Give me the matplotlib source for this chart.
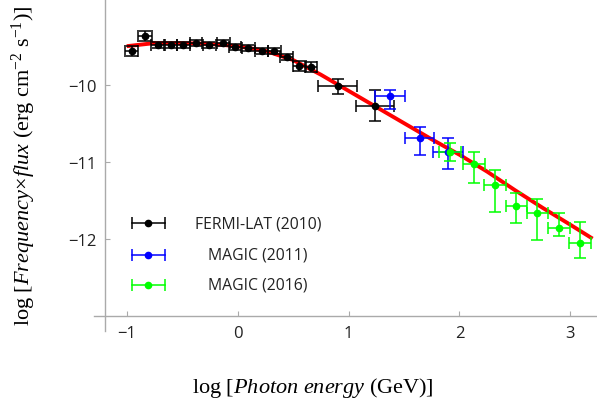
import matplotlib
matplotlib.use('Agg')
import matplotlib.pyplot as plt
import numpy as np

plt.rcParams['font.family'] = ['Open Sans', 'DejaVu Sans']
plt.rcParams['mathtext.fontset'] = 'custom'
plt.rcParams['mathtext.rm'] = 'Liberation Serif'
plt.rcParams['mathtext.it'] = 'Liberation Serif:italic'

# FERMI-LAT (2010)
fermi_x = [-0.955, -0.835, -0.721, -0.601, -0.490, -0.376, -0.256, -0.130, -0.024,
           0.096, 0.216, 0.330, 0.441, 0.555, 0.660, 0.901, 1.237]
fermi_y = [-9.558, -9.371, -9.481, -9.481, -9.481, -9.458, -9.481, -9.458, -9.514,
           -9.523, -9.558, -9.558, -9.636, -9.753, -9.774, -10.021, -10.273]
fermi_xerr = [0.06, 0.06, 0.057, 0.057, 0.057, 0.057, 0.057, 0.057, 0.057,
              0.057, 0.057, 0.057, 0.057, 0.057, 0.057, 0.173, 0.172]
fermi_yerr = [0.065, 0.065, 0.04, 0.04, 0.04, 0.04, 0.04, 0.04, 0.04,
              0.04, 0.04, 0.04, 0.04, 0.065, 0.065, 0.097, 0.2]

# MAGIC (2011)
magic11_x = [1.372, 1.642, 1.897]
magic11_y = [-10.151, -10.696, -10.870]
magic11_xerr = [0.135, 0.13, 0.135]
magic11_yerr_lo = [0.165, 0.217, 0.22]
magic11_yerr_hi = [0.082, 0.151, 0.18]

# MAGIC (2016)
magic16_x = [1.912, 2.129, 2.318, 2.514, 2.703, 2.895, 3.084]
magic16_y = [-10.878, -11.03, -11.30, -11.571, -11.666, -11.861, -12.056]
magic16_xerr = [0.098, 0.098, 0.1, 0.098, 0.098, 0.098, 0.098]
magic16_yerr_lo = [0.12, 0.25, 0.355, 0.225, 0.35, 0.11, 0.2]
magic16_yerr_hi = [0.12, 0.16, 0.195, 0.16, 0.18, 0.2, 0.27]

# model curve
model_x = [-1.0, -0.75, -0.5, -0.25, 0.0, 0.25, 0.5, 0.75, 1.0, 1.25, 1.5,
           1.75, 2.0, 2.25, 2.5, 2.75, 3.0, 3.2]
model_y = [-9.50, -9.46, -9.46, -9.47, -9.50, -9.56, -9.68, -9.87, -10.08, -10.29,
           -10.50, -10.71, -10.91, -11.13, -11.37, -11.60, -11.82, -12.00]

fig = plt.figure(figsize=(5.97, 4.02), dpi=100)
ax = fig.add_axes([94 / 597, 70 / 402, 503 / 597, 332 / 402])

ax.plot(model_x, model_y, color='#ff0000', lw=2.8, zorder=2, solid_capstyle='butt')

eb = dict(fmt='o', ms=4.5, capsize=4.5, elinewidth=1.1, capthick=1.1, zorder=3)
ax.errorbar(fermi_x, fermi_y, xerr=fermi_xerr, yerr=fermi_yerr, color='black', **eb)
ax.errorbar(magic11_x, magic11_y, xerr=magic11_xerr,
            yerr=[magic11_yerr_lo, magic11_yerr_hi], color='#0000ff', **eb)
ax.errorbar(magic16_x, magic16_y, xerr=magic16_xerr,
            yerr=[magic16_yerr_lo, magic16_yerr_hi], color='#00ff00', **eb)

ax.set_xlim(-1.295, 3.24)
ax.set_ylim(-13.2, -8.887)

for s in ['top', 'right']:
    ax.spines[s].set_visible(False)
ax.spines['left'].set_position(('data', -1.2))
ax.spines['bottom'].set_position(('data', -13.0))
for s in ['left', 'bottom']:
    ax.spines[s].set_color('#aaaaaa')
    ax.spines[s].set_linewidth(1.0)

ax.set_xticks([-1, 0, 1, 2, 3])
ax.set_yticks([-12, -11, -10])
ax.tick_params(direction='in', length=3.5, width=0.8, color='#aaaaaa',
               labelsize=12, labelcolor='#222222')
ax.tick_params(axis='x', pad=7)
ax.tick_params(axis='y', pad=6)

# legend
leg_rows = [('FERMI-LAT (2010)', 'black'), ('MAGIC (2011)', '#0000ff'),
            ('MAGIC (2016)', '#00ff00')]
leg_y = [0.325, 0.229, 0.139]
for (lab, c), yy in zip(leg_rows, leg_y):
    ax.plot([0.075, 0.141], [yy, yy], color=c, lw=1.1, transform=ax.transAxes)
    ax.plot([0.075, 0.141], [yy, yy], ls='none', marker='|', ms=8, mew=1.1,
            color=c, transform=ax.transAxes)
    ax.plot([0.108], [yy], 'o', ms=4.5, color=c, transform=ax.transAxes)
    ax.text(0.326, yy, lab, transform=ax.transAxes, ha='center', va='center',
            fontsize=11.3, color='#222222')

fig.text(313 / 597, 1 - 388 / 402, r'log [$\mathit{Photon\ energy}$ (GeV)]',
         ha='center', va='center', fontsize=16, family='Liberation Serif')
fig.text(24 / 597, 1 - 166 / 402,
         r'log [$\mathit{Frequency}$$\times$$\mathit{flux}$ (erg cm$^{\mathrm{-2}}$ s$^{\mathrm{-1}}$)]',
         ha='center', va='center', rotation=90, fontsize=16, family='Liberation Serif')

fig.savefig('out.png', dpi=100)
